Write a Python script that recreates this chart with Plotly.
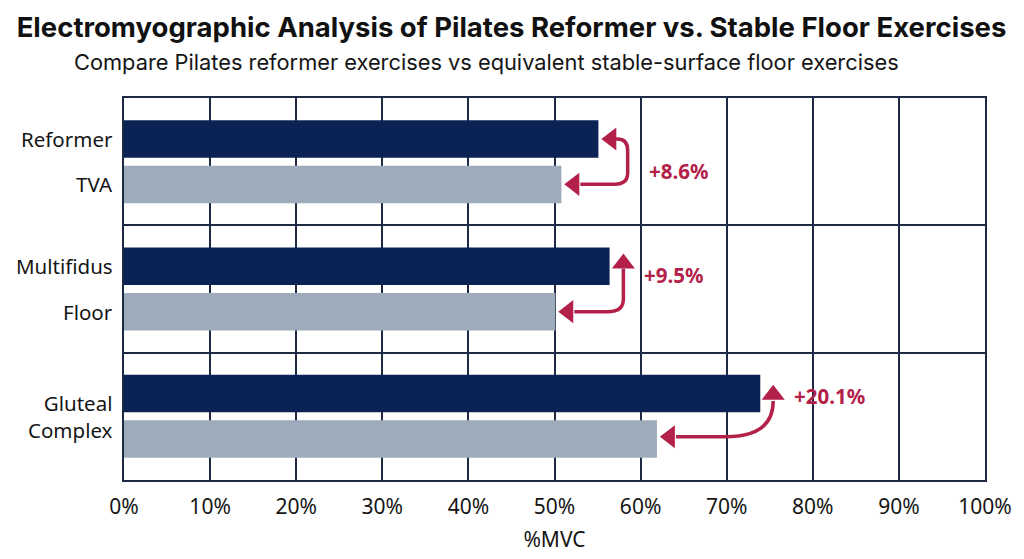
import plotly.graph_objects as go

# %MVC
muscles = ["TVA", "Multifidus", "Gluteal Complex"]
series = ["Reformer", "Floor"]
reformer = [55.1, 56.4, 73.9]
floor = [50.8, 50.1, 61.9]
changes = ["+8.6%", "+9.5%", "+20.1%"]
x_ticks = list(range(0, 101, 10))

NAVY = "#0b2254"
SLATE = "#9eabba"
RED = "#b3214a"
GRID = "#1e2a44"
TEXT = "#151515"
LBL_FONT = "Noto Sans, Lato"

pos = list(range(len(muscles)))  # one slot per muscle group

fig = go.Figure()
fig.add_trace(go.Bar(y=pos, x=reformer, name=series[0], orientation="h",
                     marker=dict(color=NAVY, line=dict(width=0)), hovertext=muscles))
fig.add_trace(go.Bar(y=pos, x=floor, name=series[1], orientation="h",
                     marker=dict(color=SLATE, line=dict(width=0)), hovertext=muscles))

# curved connector arrows between the two bars of each group
off = 0.178
heads_x, heads_y, heads_sym = [], [], []
shapes = []
label_y = []
for i, (r, f) in enumerate(zip(reformer, floor)):
    top, bot = i - off, i + off
    if i == 0:
        xc = r + 3.4
        path = (f"M {r + 2},{top} L {xc - 1.2},{top} Q {xc},{top} {xc},{top + 0.09} "
                f"L {xc},{bot - 0.09} Q {xc},{bot} {xc - 1.5},{bot} L {f + 2.2},{bot}")
        heads_x += [r + 1.5, f + 1.5]
        heads_y += [top, bot]
        heads_sym += ["triangle-left", "triangle-left"]
        label_y.append(i + 0.07)
    elif i == 1:
        xc = r + 1.6
        path = (f"M {f + 2.2},{bot} L {xc - 1.8},{bot} Q {xc},{bot} {xc},{bot - 0.1} "
                f"L {xc},{i - 0.16}")
        heads_x += [f + 1.5, xc]
        heads_y += [bot, i - 0.2]
        heads_sym += ["triangle-left", "triangle-up"]
        label_y.append(i - 0.11)
    else:
        xc = r + 1.5
        bot = i + 0.16
        path = (f"M {f + 2.2},{bot} L {f + 8},{bot} Q {xc},{bot} {xc},{i - 0.12}")
        heads_x += [f + 1.5, xc]
        heads_y += [bot, i - 0.17]
        heads_sym += ["triangle-left", "triangle-up"]
        label_y.append(i - 0.16)
    shapes.append(dict(type="path", path=path, xref="x", yref="y",
                       line=dict(color=RED, width=3.5)))
    fig.add_annotation(x=xc + 2.2, y=label_y[i], xref="x", yref="y",
                       text=f"<b>{changes[i]}</b>", showarrow=False, xanchor="left",
                       font=dict(family=LBL_FONT, size=20.5, color=RED))

fig.add_trace(go.Scatter(x=heads_x, y=heads_y, mode="markers", showlegend=False,
                         hoverinfo="skip",
                         marker=dict(symbol=heads_sym, size=20, color=RED)))

# odd y labels as in the reference
labels = [(series[0], 0 - off), (muscles[0], 0 + off),
          (muscles[1], 1 - off), (series[1], 1 + off),
          ("Gluteal<br>Complex", 2)]
for txt, yv in labels:
    fig.add_annotation(x=0, xref="paper", y=yv, yref="y", text=txt, showarrow=False,
                       xanchor="right", xshift=-9, align="right",
                       font=dict(family=LBL_FONT, size=20.5, color=TEXT))

fig.add_annotation(x=-0.0604, xref="paper", y=1.094, yref="paper",
                   text="Compare Pilates reformer exercises vs equivalent stable-surface floor exercises",
                   showarrow=False, xanchor="left", yanchor="middle",
                   font=dict(family="Inter, Roboto", size=21.8, color=TEXT))

fig.update_layout(
    width=1024, height=559,
    barmode="group", bargap=0.286, bargroupgap=0.175,
    plot_bgcolor="white", paper_bgcolor="white",
    margin=dict(l=116, r=47, t=90, b=87),
    showlegend=False,
    shapes=shapes,
    title=dict(text="<b>Electromyographic Analysis of Pilates Reformer vs. Stable Floor Exercises</b>",
               x=0.4917, xanchor="center", xref="container", y=0.965, yanchor="middle",
               font=dict(family="Inter, Roboto", size=27.5, color="#111111")),
    font=dict(family=LBL_FONT, color=TEXT),
)
fig.update_xaxes(range=[0, 100], tickvals=x_ticks, ticktext=[f"{v}%" for v in x_ticks],
                 showgrid=True, gridcolor=GRID, gridwidth=1.5,
                 showline=True, linecolor=GRID, linewidth=1.5, mirror=True,
                 tickfont=dict(size=21, color=TEXT), ticks="", zeroline=False,
                 ticklabelstandoff=7,
                 title=dict(text="%MVC", font=dict(size=21, color=TEXT), standoff=13))
bounds = [p - 0.5 for p in pos] + [pos[-1] + 0.5]
fig.update_yaxes(range=[pos[-1] + 0.5, -0.5], tickvals=bounds, ticktext=[""] * len(bounds),
                 showgrid=True, gridcolor=GRID, gridwidth=1.5, zeroline=False,
                 showline=True, linecolor=GRID, linewidth=1.5, mirror=True, ticks="")

fig.write_html("out.html")
